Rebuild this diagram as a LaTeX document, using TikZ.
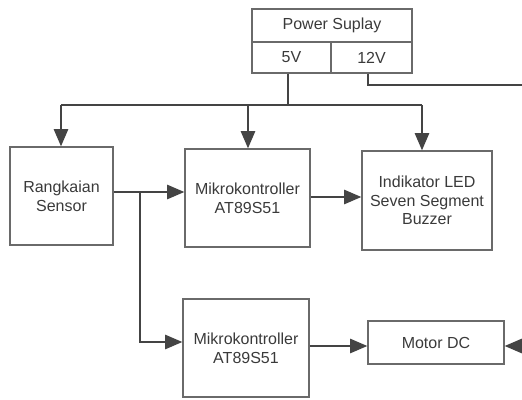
\documentclass[tikz,border=0pt]{standalone}
\usepackage{fontspec}
\setmainfont{Liberation Sans}
\usetikzlibrary{arrows.meta}
\definecolor{boxline}{HTML}{6A6A6A}
\definecolor{wire}{HTML}{444444}
\definecolor{txt}{HTML}{3A3A3A}
\begin{document}
\begin{tikzpicture}[x=0.75pt,y=-0.75pt,
  blk/.style={draw=boxline,line width=0.8pt,rectangle,inner sep=0pt,align=center,
    text=txt,font=\fontsize{12}{14}\selectfont},
  wireline/.style={draw=wire,line width=2pt},
  arr/.style={wireline,-{Triangle[length=13pt,width=10.5pt]}}]
\useasboundingbox (0,0) rectangle (522,400);
% power supply
\node[blk,minimum width=120pt,minimum height=24.75pt] (ps) at (332,25.5) {Power Suplay};
\node[blk,minimum width=59.25pt,minimum height=23.25pt] (v5) at (291.5,57.5) {5V};
\node[blk,minimum width=60.75pt,minimum height=23.25pt] (v12) at (371.5,57.5) {12V};
% blocks
\node[blk,minimum width=77.25pt,minimum height=73.5pt] (sens) at (61.5,196) {Rangkaian\\Sensor};
\node[blk,minimum width=93.75pt,minimum height=73.5pt] (mk1) at (247.5,198) {Mikrokontroller\\AT89S51};
\node[blk,minimum width=97.5pt,minimum height=74.25pt] (ind) at (427,200.5) {Indikator LED\\Seven Segment\\Buzzer};
\node[blk,minimum width=94.5pt,minimum height=73.5pt] (mk2) at (246,348) {Mikrokontroller\\AT89S51};
\node[blk,minimum width=102pt,minimum height=32.25pt] (mot) at (436,342.5) {Motor DC};
% coordinates
\coordinate (bus) at (288,105);
\coordinate (busL) at (61,105);
\coordinate (busR) at (422,105);
\coordinate (v12a) at (368,85);
\coordinate (v12e) at (522,85);
\coordinate (br) at (140,192);
\coordinate (mIn) at (522,346);
% 5V bus
\draw[wireline] (v5.south -| bus) -- (bus);
\draw[wireline] (busL) -- (busR);
\draw[arr] (busL) -- (sens.north -| busL);
\draw[arr] (bus -| 248,0) -- (mk1.north -| 248,0);
\draw[arr] (busR) -- (ind.north -| busR);
% 12V
\draw[wireline] (v12.south -| v12a) -- (v12a) -- (v12e);
% signals
\draw[arr] (sens.east |- br) -- (mk1.west |- br);
\draw[arr] (br) -- (br |- 0,342) -- (mk2.west |- 0,342);
\draw[arr] (mk1.east |- 0,197) -- (ind.west |- 0,197);
\draw[arr] (mk2.east |- 0,346) -- (mot.west |- 0,346);
\draw[arr] (mIn) -- (mot.east |- mIn);
\end{tikzpicture}
\end{document}
